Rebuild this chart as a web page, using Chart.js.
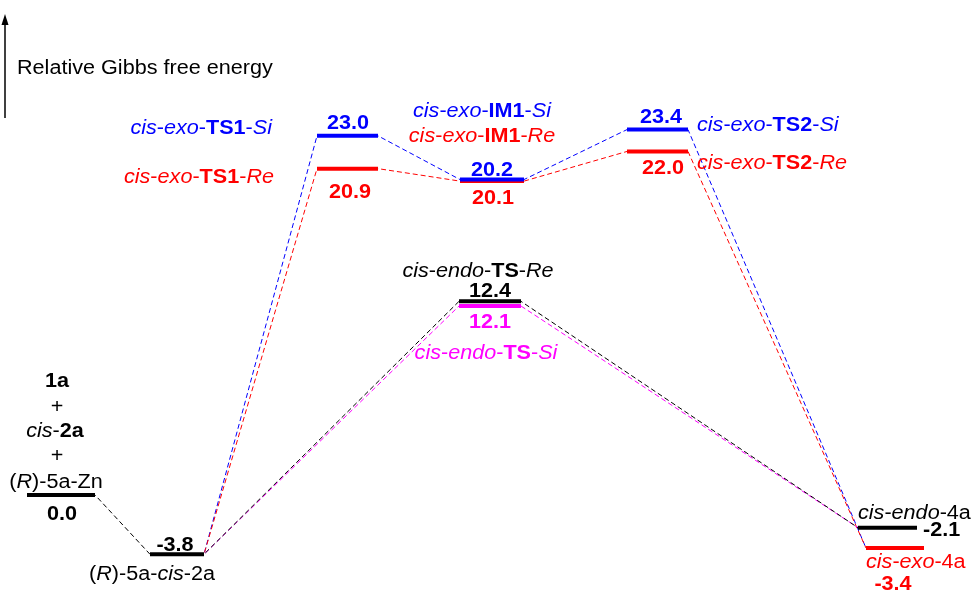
<!DOCTYPE html>
<html>
<head>
<meta charset="utf-8">
<script src="https://cdn.jsdelivr.net/npm/chart.js@4/dist/chart.umd.min.js"></script>
<style>
  html, body { margin: 0; padding: 0; background: #fff; }
  #wrap { width: 977px; height: 598px; }
</style>
</head>
<body>
<div id="wrap"><canvas id="c" width="977" height="598"></canvas></div>
<script>
// Relative Gibbs free energies (kcal/mol) along each pathway
const startStages   = ['start', 'complex'];
const startEnergy   = [0.0, -3.8];

const exoStages     = ['complex', 'ts1', 'im1', 'ts2', 'exoProduct'];
const exoSiEnergy   = [-3.8, 23.0, 20.2, 23.4, -3.4];
const exoReEnergy   = [-3.8, 20.9, 20.1, 22.0, -3.4];

const endoStages    = ['complex', 'endoTs', 'endoProduct'];
const endoReEnergy  = [-3.8, 12.4, -2.1];
const endoSiEnergy  = [-3.8, 12.1, -2.1];

// Horizontal extent of every level bar (canvas px on the x scale)
const stageSpan = {
  start:       [27, 95],
  complex:     [150, 204],
  ts1:         [317, 378],
  im1:         [460, 524],
  ts2:         [627, 688],
  endoTs:      [459, 521],
  endoProduct: [858, 917],
  exoProduct:  [866, 924]
};

const BLUE = '#0000ff', RED = '#ff0000', MAGENTA = '#ff00ff', BLACK = '#000000';

// polyline through both ends of every level of a pathway
function pathPoints(stages, energy) {
  const pts = [];
  stages.forEach((s, i) => {
    pts.push({ x: stageSpan[s][0], y: energy[i] });
    pts.push({ x: stageSpan[s][1], y: energy[i] });
  });
  return pts;
}

function connector(stages, energy, color) {
  return {
    data: pathPoints(stages, energy),
    borderColor: color, borderWidth: 1, borderDash: [5, 3],
    pointRadius: 0, tension: 0, fill: false, order: 3
  };
}

function bar(stage, value, color, order) {
  return {
    data: [{ x: stageSpan[stage][0], y: value }, { x: stageSpan[stage][1], y: value }],
    borderColor: color, borderWidth: 4, borderCapStyle: 'butt',
    pointRadius: 0, fill: false, order: order
  };
}

const datasets = [
  connector(startStages, startEnergy, BLACK),
  connector(endoStages, endoReEnergy, BLACK),
  connector(endoStages, endoSiEnergy, MAGENTA),
  connector(exoStages, exoReEnergy, RED),
  connector(exoStages, exoSiEnergy, BLUE),

  bar('start', startEnergy[0], BLACK, 1),
  bar('complex', startEnergy[1], BLACK, 1),
  bar('ts1', exoReEnergy[1], RED, 2),
  bar('im1', exoReEnergy[2], RED, 2),
  bar('ts2', exoReEnergy[3], RED, 2),
  bar('exoProduct', exoReEnergy[4], RED, 2),
  bar('ts1', exoSiEnergy[1], BLUE, 1),
  bar('im1', exoSiEnergy[2], BLUE, 1),
  bar('ts2', exoSiEnergy[3], BLUE, 1),
  bar('endoTs', endoSiEnergy[1], MAGENTA, 2),
  bar('endoTs', endoReEnergy[1], BLACK, 1),
  bar('endoProduct', endoReEnergy[2], BLACK, 1)
];

// ---- text annotations ----
const FAMILY = '"Liberation Sans", Arial, Helvetica, sans-serif';
const TEXT_SIZE = 20;
const TEXT_STRETCH = 1.08;   // slightly wide lettering

function fontFor(style, size) {
  return (style.includes('i') ? 'italic ' : '') + (style.includes('b') ? 'bold ' : '') + size + 'px ' + FAMILY;
}
function drawRich(ctx, parts, x, y, align, color) {
  let w = 0;
  parts.forEach(p => { ctx.font = fontFor(p[1], TEXT_SIZE); w += ctx.measureText(p[0]).width * TEXT_STRETCH; });
  let sx = align === 'center' ? x - w / 2 : align === 'right' ? x - w : x;
  ctx.fillStyle = color;
  ctx.textAlign = 'left';
  ctx.textBaseline = 'alphabetic';
  parts.forEach(p => {
    ctx.font = fontFor(p[1], TEXT_SIZE);
    ctx.save();
    ctx.translate(sx, y);
    ctx.scale(TEXT_STRETCH, 1);
    ctx.fillText(p[0], 0, 0);
    ctx.restore();
    sx += ctx.measureText(p[0]).width * TEXT_STRETCH;
  });
}
const name = (pre, bold, post) => [['cis', 'i'], ['-', ''], [pre, 'i'], ['-', ''], [bold, 'b'], ['-', ''], [post, 'i']];

// [parts, color, x, align, energy array, index, vertical offset from the bar]
const annotations = [
  [name('exo', 'TS1', 'Si'), BLUE, 272, 'right', exoSiEnergy, 1, -2],
  [name('exo', 'TS1', 'Re'), RED, 274, 'right', exoReEnergy, 1, 14],
  [name('exo', 'IM1', 'Si'), BLUE, 482, 'center', exoSiEnergy, 2, -63],
  [name('exo', 'IM1', 'Re'), RED, 482, 'center', exoSiEnergy, 2, -38],
  [name('exo', 'TS2', 'Si'), BLUE, 697, 'left', exoSiEnergy, 3, 1],
  [name('exo', 'TS2', 'Re'), RED, 697, 'left', exoReEnergy, 3, 18],
  [name('endo', 'TS', 'Re'), BLACK, 478, 'center', endoReEnergy, 1, -24],
  [name('endo', 'TS', 'Si'), MAGENTA, 486, 'center', endoSiEnergy, 1, 53],
  [[['1a', 'b']], BLACK, 57, 'center', startEnergy, 0, -108],
  [[['+', '']], BLACK, 57, 'center', startEnergy, 0, -82],
  [[['cis', 'i'], ['-', ''], ['2a', 'b']], BLACK, 55, 'center', startEnergy, 0, -58],
  [[['+', '']], BLACK, 57, 'center', startEnergy, 0, -33],
  [[['(', ''], ['R', 'i'], [')-5a-Zn', '']], BLACK, 56, 'center', startEnergy, 0, -7],
  [[['(', ''], ['R', 'i'], [')-5a-', ''], ['cis', 'i'], ['-2a', '']], BLACK, 152, 'center', startEnergy, 1, 26],
  [[['cis', 'i'], ['-', ''], ['endo', 'i'], ['-4a', '']], BLACK, 858, 'left', endoReEnergy, 2, -9],
  [[['cis', 'i'], ['-', ''], ['exo', 'i'], ['-4a', '']], RED, 866, 'left', exoReEnergy, 4, 20]
];

// value labels: [energy array, index, color, x, align, vertical offset]
const valueLabels = [
  [startEnergy, 0, BLACK, 62, 'center', 25],
  [startEnergy, 1, BLACK, 175, 'center', -3],
  [exoSiEnergy, 1, BLUE, 348, 'center', -7],
  [exoReEnergy, 1, RED, 350, 'center', 29],
  [exoSiEnergy, 2, BLUE, 492, 'center', -4],
  [exoReEnergy, 2, RED, 493, 'center', 23],
  [exoSiEnergy, 3, BLUE, 661, 'center', -7],
  [exoReEnergy, 3, RED, 663, 'center', 23],
  [endoReEnergy, 1, BLACK, 490, 'center', -4],
  [endoSiEnergy, 1, MAGENTA, 490, 'center', 22],
  [endoReEnergy, 2, BLACK, 923, 'left', 8],
  [exoReEnergy, 4, RED, 893, 'center', 42]
];

const annotationPlugin = {
  id: 'energyAnnotations',
  afterDraw(chart) {
    const ctx = chart.ctx;
    const y = chart.scales.y;
    ctx.save();

    // vertical energy arrow and its caption
    ctx.strokeStyle = BLACK;
    ctx.lineWidth = 1.5;
    ctx.beginPath();
    ctx.moveTo(5, 118);
    ctx.lineTo(5, 22);
    ctx.stroke();
    ctx.fillStyle = BLACK;
    ctx.beginPath();
    ctx.moveTo(5, 14);
    ctx.lineTo(8.5, 25);
    ctx.lineTo(1.5, 25);
    ctx.closePath();
    ctx.fill();
    drawRich(ctx, [['Relative Gibbs free energy', '']], 17, 74, 'left', BLACK);

    annotations.forEach(a => {
      const py = y.getPixelForValue(a[4][a[5]]) + a[6];
      drawRich(ctx, a[0], a[2], py, a[3], a[1]);
    });
    valueLabels.forEach(v => {
      const val = v[0][v[1]];
      const py = y.getPixelForValue(val) + v[5];
      drawRich(ctx, [[val.toFixed(1), 'b']], v[3], py, v[4], v[2]);
    });
    ctx.restore();
  }
};

new Chart(document.getElementById('c'), {
  type: 'line',
  data: { datasets: datasets },
  options: {
    responsive: false,
    devicePixelRatio: 1,
    animation: false,
    events: [],
    layout: { padding: 0 },
    plugins: { legend: { display: false }, tooltip: { enabled: false } },
    scales: {
      x: { type: 'linear', min: 0, max: 977, display: false },
      y: { type: 'linear', min: -6.6, max: 31.7, display: false }
    }
  },
  plugins: [annotationPlugin]
});
</script>
</body>
</html>
